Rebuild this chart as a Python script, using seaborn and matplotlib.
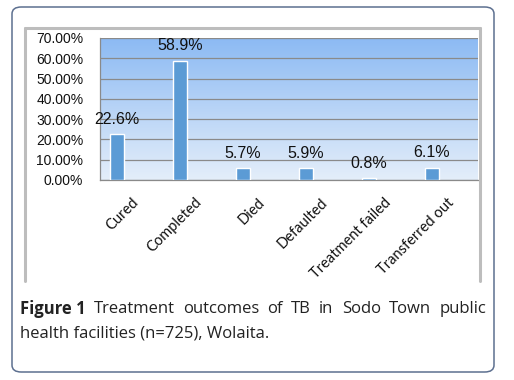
import numpy as np
import pandas as pd
import matplotlib
matplotlib.use('Agg')
import matplotlib.pyplot as plt
import seaborn as sns
from matplotlib.patches import FancyBboxPatch
from matplotlib.lines import Line2D
from matplotlib.ticker import MultipleLocator, FuncFormatter

# data
outcomes = ['Cured', 'Completed', 'Died', 'Defaulted', 'Treatment failed', 'Transferred out']
percent = [22.6, 58.9, 5.7, 5.9, 0.8, 6.1]
bar_labels = ['22.6%', '58.9%', '5.7%', '5.9%', '0.8%', '6.1%']
caption_bold = 'Figure 1'
caption_line1 = 'Treatment outcomes of TB in Sodo Town public'
caption_line2 = 'health facilities (n=725), Wolaita.'

df = pd.DataFrame({'outcome': outcomes, 'share': np.array(percent) / 100})

W, H = 514, 380
sns.set_style('white')
fig = plt.figure(figsize=(W / 100, H / 100), dpi=100)

def px(x0, y0, x1, y1):
    return [x0 / W, 1 - y1 / H, (x1 - x0) / W, (y1 - y0) / H]

# outer rounded box
fig.patches.append(FancyBboxPatch((12 / W, 1 - 372 / H), 482 / W, 365 / H,
                                  boxstyle='round,pad=0,rounding_size=0.018',
                                  transform=fig.transFigure, fc='none',
                                  ec='#5d7090', lw=1.1))

# chart frame (grey)
gc = '#bdbdbd'
for xs, ys in [((25, 480), (28, 28)), ((25, 25), (28, 281)), ((480, 480), (28, 281))]:
    fig.lines.append(Line2D([x / W for x in xs], [1 - y / H for y in ys],
                            transform=fig.transFigure, color=gc, lw=2.2))

ax = fig.add_axes(px(100, 38, 478, 180))

# gradient background
grad = np.linspace(0, 1, 256).reshape(-1, 1)
top = np.array([0x8c, 0xba, 0xf3]) / 255
bot = np.array([0xe4, 0xee, 0xfa]) / 255
img = top * grad[..., None] + bot * (1 - grad[..., None])
ax.imshow(img, extent=[-0.5, 5.5, 0, 0.7], aspect='auto', origin='lower', zorder=0)

sns.barplot(data=df, x='outcome', y='share', color='#5b9bd5', width=0.22,
            saturation=1, ax=ax, zorder=3)
# excel-style offset of the single series inside its category
for p in ax.patches:
    p.set_x(p.get_x() - 0.23)

for p, lab in zip(ax.patches, bar_labels):
    ax.text(p.get_x() + p.get_width() / 2, p.get_height() + 0.074, lab,
            ha='center', va='center', fontsize=11.5,
            family='Liberation Sans', color='#111111', zorder=5)

ax.set_xlim(-0.5, 5.5)
ax.set_ylim(0, 0.7)
ax.yaxis.set_major_locator(MultipleLocator(0.1))
ax.yaxis.set_major_formatter(FuncFormatter(lambda v, _: f'{v * 100:.2f}%'))
ax.grid(axis='y', color='#8a8a8a', lw=0.9, zorder=1)
ax.set_axisbelow(False)
for line in ax.get_ygridlines():
    line.set_zorder(1)

ax.set_xlabel('')
ax.set_ylabel('')
ax.set_xticks(np.arange(-0.5, 6, 1), minor=True)
ax.tick_params(axis='x', which='major', length=0, pad=11)
ax.tick_params(axis='x', which='minor', length=5, color='#8a8a8a', width=0.9)
ax.tick_params(axis='y', length=5, color='#8a8a8a', width=0.9, pad=7)
for t in ax.get_yticklabels():
    t.set_family('Liberation Sans')
    t.set_fontsize(10)
    t.set_color('#111111')
ax.set_xticks(range(len(outcomes)))
ax.set_xticklabels(outcomes, rotation=45, ha='right', rotation_mode='anchor',
                   family='Lato', fontsize=10.5, color='#111111')
for s in ['top', 'right']:
    ax.spines[s].set_visible(False)
for s in ['left', 'bottom']:
    ax.spines[s].set_color('#8a8a8a')
    ax.spines[s].set_linewidth(0.9)

# caption, first line justified between 20 and 486 px
fig.canvas.draw()
r = fig.canvas.get_renderer()
y1 = 1 - 309 / H
y2 = 1 - 334 / H
cap_kw = dict(fontsize=12, family='Open Sans', color='#222222', va='center')
words = [(caption_bold, 'bold')] + [(w, 'normal') for w in caption_line1.split()]
texts = [fig.text(0, y1, w, fontweight=fw, **cap_kw) for w, fw in words]
widths = [t.get_window_extent(r).width for t in texts]
gap = (466 - sum(widths)) / (len(texts) - 1)
xpos = 20
for t, wd in zip(texts, widths):
    t.set_x(xpos / W)
    xpos += wd + gap
fig.text(20 / W, y2, caption_line2, **cap_kw)

fig.savefig('out.png', dpi=100)
